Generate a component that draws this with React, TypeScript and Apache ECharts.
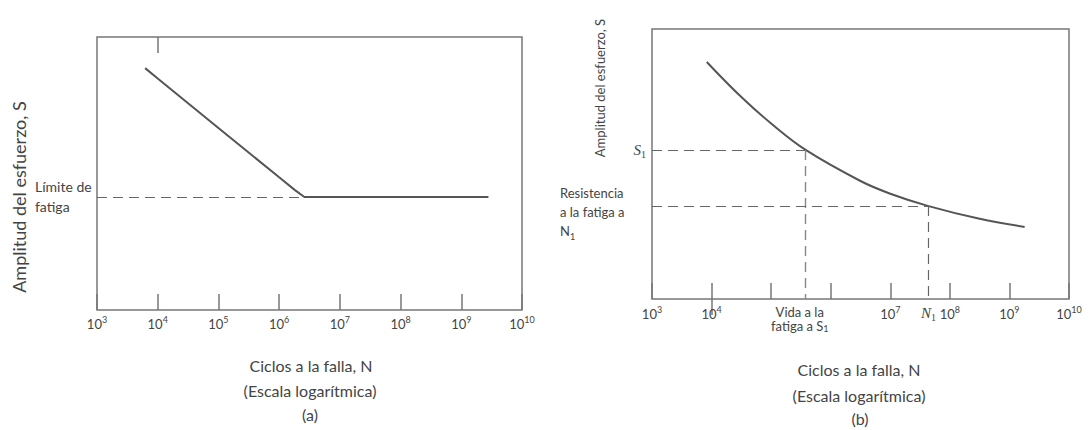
import React, { useEffect, useRef } from 'react';
import * as echarts from 'echarts';

// ---- Data ----
// (a) S-N curve with fatigue limit
const A_N = [6.2e3, 1e4, 1e5, 1e6, 1.8e6, 2.6e6, 1e7, 1e8, 1e9, 2.8e9];
const A_S = [88.6, 84.8, 66.7, 48.6, 44.0, 41.4, 41.4, 41.4, 41.4, 41.4];
const FATIGUE_LIMIT = 41.4;
const KNEE_N = 2.6e6;

// (b) S-N curve without fatigue limit
const B_N = [8.3e3, 3.16e4, 1e5, 3.8e5, 3.16e6, 1e7, 4.4e7, 3.16e8, 1.8e9];
const B_S = [87.8, 74.8, 65.0, 55.2, 43.7, 39.0, 34.4, 29.7, 26.7];
const S1 = 55.2;
const S1_LIFE = 3.8e5;
const N1 = 4.4e7;
const S_AT_N1 = 34.4;

// tick labels (decade exponents)
const A_DECADES = [3, 4, 5, 6, 7, 8, 9, 10];
const B_DECADES = [3, 4, 7, 8, 9, 10];
const VIDA_LABEL_AT = 5.48; // where "Vida a la fatiga a S1" sits on axis (b)

const FONT = 'Lato, "Noto Sans", sans-serif';
const SERIF = '"Liberation Serif", "DejaVu Serif", serif';
const TEXT = '#444';
const LINE = '#555';
const FRAME = '#777';

const lg = (v: number) => Math.log10(v);

const tickRich = {
  b: { fontSize: 13, fontFamily: FONT, color: TEXT, verticalAlign: 'bottom' },
  s: { fontSize: 9, fontFamily: FONT, color: TEXT, verticalAlign: 'bottom', padding: [0, 0, 6, 0] },
  n: { fontSize: 15, fontFamily: SERIF, fontStyle: 'italic', color: TEXT, verticalAlign: 'bottom' },
  nsub: { fontSize: 10, fontFamily: SERIF, color: TEXT, verticalAlign: 'bottom', padding: [0, 0, -2, 0] },
  v: { fontSize: 13, fontFamily: FONT, color: TEXT, lineHeight: 14 },
  vs: { fontSize: 9, fontFamily: FONT, color: TEXT, lineHeight: 14, verticalAlign: 'bottom' },
};

const dashed = { type: [10, 6] as any, color: '#666', width: 1.2 };

function buildOption(): any {
  const near = (a: number, b: number) => Math.abs(a - b) < 1e-6;
  return {
    animation: false,
    grid: [
      { left: 97, top: 37, width: 425, height: 273, show: true, borderColor: FRAME, borderWidth: 1.5, backgroundColor: 'transparent' },
      { left: 652, top: 29, width: 417, height: 270, show: true, borderColor: FRAME, borderWidth: 1.5, backgroundColor: 'transparent' },
    ],
    xAxis: [
      {
        type: 'value', gridIndex: 0, min: 3, max: 10, interval: 1, position: 'bottom',
        axisLine: { show: false }, splitLine: { show: false },
        axisTick: { show: true, inside: true, length: 16, lineStyle: { color: FRAME, width: 1.5 } },
        axisLabel: {
          margin: 5, customValues: A_DECADES,
          formatter: (v: number) => `{b|10}{s|${Math.round(v)}}`, rich: tickRich,
        },
      },
      {
        type: 'value', gridIndex: 0, min: 3, max: 10, position: 'top',
        axisLine: { show: false }, splitLine: { show: false }, axisLabel: { show: false },
        axisTick: { show: true, inside: true, length: 16, customValues: [4], lineStyle: { color: FRAME, width: 1.5 } },
      },
      {
        type: 'value', gridIndex: 1, min: 3, max: 10, interval: 1, position: 'bottom',
        axisLine: { show: false }, splitLine: { show: false },
        axisTick: { show: true, inside: true, length: 16, lineStyle: { color: FRAME, width: 1.5 } },
        axisLabel: {
          margin: 6, customValues: [...B_DECADES, VIDA_LABEL_AT, lg(N1)],
          formatter: (v: number) => {
            if (near(v, VIDA_LABEL_AT)) return '{v|Vida a la}\n{v|fatiga a S}{vs|1}';
            if (near(v, lg(N1))) return '{n|N}{nsub|1}';
            return `{b|10}{s|${Math.round(v)}}`;
          },
          rich: tickRich,
        },
      },
      {
        type: 'value', gridIndex: 1, min: 3, max: 10, position: 'top',
        axisLine: { show: false }, splitLine: { show: false }, axisLabel: { show: false },
        axisTick: { show: true, inside: true, length: 16, customValues: [4], lineStyle: { color: FRAME, width: 1.5 } },
      },
    ],
    yAxis: [
      {
        type: 'value', gridIndex: 0, min: 0, max: 100,
        axisLine: { show: false }, axisTick: { show: false }, splitLine: { show: false },
        axisLabel: {
          customValues: [FATIGUE_LIMIT], align: 'left', margin: 62, verticalAlign: 'middle',
          formatter: () => 'Límite de\nfatiga', fontSize: 14, fontFamily: FONT, color: TEXT,
          lineHeight: 20, padding: [0, 0, 8, 0],
        },
      },
      {
        type: 'value', gridIndex: 1, min: 0, max: 100,
        axisLine: { show: false }, axisTick: { show: false }, splitLine: { show: false },
        axisLabel: {
          customValues: [S1], margin: 6,
          formatter: () => '{i|S}{sub|1}',
          rich: {
            i: { fontSize: 15, fontFamily: SERIF, fontStyle: 'italic', color: TEXT, verticalAlign: 'bottom' },
            sub: { fontSize: 10, fontFamily: SERIF, color: TEXT, verticalAlign: 'bottom', padding: [0, 0, -2, 0] },
          },
        },
      },
      {
        type: 'value', gridIndex: 1, min: 0, max: 100, position: 'left',
        axisLine: { show: false }, axisTick: { show: false }, splitLine: { show: false },
        axisLabel: {
          customValues: [S_AT_N1], align: 'left', margin: 92, verticalAlign: 'middle',
          formatter: () => 'Resistencia\na la fatiga a\n{t|N}{ts|1}', fontSize: 13, fontFamily: FONT, color: TEXT,
          lineHeight: 19, padding: [12, 0, 0, 0],
          rich: {
            t: { fontSize: 13, fontFamily: FONT, color: TEXT, lineHeight: 19 },
            ts: { fontSize: 9, fontFamily: FONT, color: TEXT, lineHeight: 19, verticalAlign: 'bottom' },
          },
        },
      },
    ],
    series: [
      {
        type: 'line', xAxisIndex: 0, yAxisIndex: 0, showSymbol: false, symbol: 'none',
        data: A_N.map((n, i) => [lg(n), A_S[i]]),
        lineStyle: { color: LINE, width: 2 },
        markLine: {
          silent: true, symbol: 'none', label: { show: false }, lineStyle: dashed,
          data: [[{ coord: [3, FATIGUE_LIMIT] }, { coord: [lg(KNEE_N), FATIGUE_LIMIT] }]],
        },
      },
      {
        type: 'line', xAxisIndex: 2, yAxisIndex: 1, showSymbol: false, symbol: 'none', smooth: 0.4,
        data: B_N.map((n, i) => [lg(n), B_S[i]]),
        lineStyle: { color: LINE, width: 2 },
        markLine: {
          silent: true, symbol: 'none', label: { show: false }, lineStyle: dashed,
          data: [
            [{ coord: [3, S1] }, { coord: [lg(S1_LIFE), S1] }],
            [{ coord: [lg(S1_LIFE), S1], lineStyle: { color: '#888', type: [10, 6], width: 1.4 } }, { coord: [lg(S1_LIFE), 0] }],
            [{ coord: [3, S_AT_N1] }, { coord: [lg(N1), S_AT_N1] }],
            [{ coord: [lg(N1), S_AT_N1] }, { coord: [lg(N1), 0] }],
          ],
        },
      },
    ],
    graphic: [
      { type: 'text', x: 19, y: 197, rotation: Math.PI / 2, style: { text: 'Amplitud del esfuerzo, S', fontSize: 18, fontFamily: FONT, fill: TEXT, align: 'center', verticalAlign: 'middle' } },
      { type: 'text', x: 600, y: 88, rotation: Math.PI / 2, style: { text: 'Amplitud del esfuerzo, S', fontSize: 13, fontFamily: FONT, fill: TEXT, align: 'center', verticalAlign: 'middle' } },
      { type: 'text', x: 311, y: 365, style: { text: 'Ciclos a la falla, N', fontSize: 16, fontFamily: FONT, fill: TEXT, align: 'center', verticalAlign: 'middle' } },
      { type: 'text', x: 310, y: 390, style: { text: '(Escala logarítmica)', fontSize: 16, fontFamily: FONT, fill: TEXT, align: 'center', verticalAlign: 'middle' } },
      { type: 'text', x: 310, y: 414, style: { text: '(a)', fontSize: 16, fontFamily: FONT, fill: TEXT, align: 'center', verticalAlign: 'middle' } },
      { type: 'text', x: 859, y: 369, style: { text: 'Ciclos a la falla, N', fontSize: 16, fontFamily: FONT, fill: TEXT, align: 'center', verticalAlign: 'middle' } },
      { type: 'text', x: 859, y: 395, style: { text: '(Escala logarítmica)', fontSize: 16, fontFamily: FONT, fill: TEXT, align: 'center', verticalAlign: 'middle' } },
      { type: 'text', x: 860, y: 418, style: { text: '(b)', fontSize: 16, fontFamily: FONT, fill: TEXT, align: 'center', verticalAlign: 'middle' } },
    ],
  };
}

export default function App() {
  const ref = useRef<HTMLDivElement>(null);
  useEffect(() => {
    document.body.style.margin = '0';
    const chart = echarts.init(ref.current!, null, { renderer: 'svg' });
    chart.setOption(buildOption());
    return () => chart.dispose();
  }, []);
  return <div ref={ref} style={{ width: 1089, height: 430 }} />;
}
